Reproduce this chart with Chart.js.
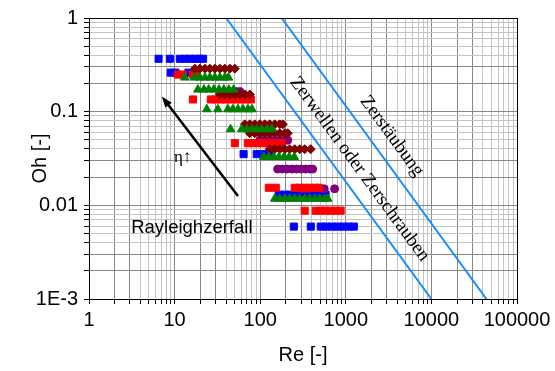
<!doctype html>
<html lang="de">
  <head>
    <meta charset="utf-8">
    <title>Oh-Re Diagramm</title>
    <style>
      * {
        margin: 0;
        padding: 0;
      }
      body {
        background: #fff;
      }
    </style>
  </head>
  <body>
    <canvas id="myChart" width="555" height="371"></canvas>
    <script src="https://cdn.jsdelivr.net/npm/chart.js"></script>
    <script>

    // axis decades and their labels
    const xDecades = [1, 10, 100, 1000, 10000, 100000];
    const xTickLabels = ['1', '10', '100', '1000', '10000', '100000'];
    const yDecades = [0.001, 0.01, 0.1, 1];
    const yTickLabels = ['1E-3', '0.01', '0.1', '1'];

    // measured rows: one Oh per row, Re values along it
    const blueOh = [0.367, 0.261, 0.0352, 0.0130, 0.00593];
    const blueRe = [
      [6.5, 8.8, 11.5, 13.2, 15.1, 17.3, 19.7, 21.5],
      [9.0, 10.2, 14.5],
      [64, 91, 113, 129],
      [165, 194, 221, 253, 290, 331, 379, 434, 496, 580],
      [247, 390, 510, 590, 690, 800, 930, 1080, 1240]
    ];
    const redOh = [0.249, 0.135, 0.0461, 0.0154, 0.00877];
    const redRe = [
      [10.9, 12.5, 16.4, 18.2],
      [16.4, 26.5, 30.3, 34.7, 39.7, 45.4, 52, 59.5, 68, 77.8],
      [50.5, 71.7, 82, 94, 107, 122, 140, 160, 178],
      [126, 152, 253, 290, 331, 379, 434, 483],
      [331, 445, 510, 580, 665, 760, 870]
    ];
    const maroonOh = [0.288, 0.1526, 0.0733, 0.0589, 0.0398];
    const maroonRe = [
      [17.3, 19.7, 22.6, 25.8, 29.5, 33.8, 38.6, 44.2, 50.5],
      [33.8, 38.6, 44.2, 50.5, 57.8, 66.1, 75.6],
      [66.1, 75.6, 86.5, 98.9, 113, 129, 148, 169, 184],
      [75.6, 86.5, 98.9, 113, 129, 148, 169, 194, 210],
      [129, 148, 169, 194, 221, 253, 290, 331, 389]
    ];
    const greenOh = [0.231, 0.172, 0.106, 0.0649, 0.0328, 0.01175];
    const greenRe = [
      [13.2, 17.0, 19.7, 22.6, 25.8, 29.5, 33.8, 38.6, 42.5],
      [18.7, 22.0, 25.0, 28.7, 33, 37.6, 43, 49],
      [23.8, 32, 42, 48, 55, 63, 72, 80],
      [45, 61, 70, 80, 91, 104, 120, 137],
      [110, 126, 144, 165, 190, 218, 250],
      [148, 169, 194, 221, 253, 290, 331, 379, 434, 496, 567, 615]
    ];
    const purpleOh = [0.164, 0.0496, 0.0244, 0.0150];
    const purpleRe = [
      [44, 52, 58],
      [99, 113, 129, 148, 169, 194, 210],
      [160, 180, 205, 235, 265, 300, 340, 380, 410],
      [310, 360, 560, 740]
    ];

    // regime boundaries
    const wellenRe = [40, 10000];
    const wellenOh = [1, 0.001];
    const staubRe = [178, 44000];
    const staubOh = [1, 0.001];

    // viscosity arrow (start, tip)
    const arrowRe = [55, 7.1];
    const arrowOh = [0.0126, 0.145];

    // text notes, anchored in data space
    const notes = [
      {text: 'Zerwellen oder Zerschrauben', re: 1450, oh: 0.0244, font: 'serif', size: 19, along: 'wellen'},
      {text: 'Zerstäubung', re: 3450, oh: 0.0547, font: 'serif', size: 19, along: 'staub'},
      {text: 'η↑', re: 12.4, oh: 0.032, font: 'serif', size: 17},
      {text: 'Rayleighzerfall', re: 15.9, oh: 0.0057, font: 'sans', size: 18.5}
    ];

    function rowPoints(ohs, res) {
      const pts = [];
      ohs.forEach((oh, i) => res[i].forEach(re => pts.push({x: re, y: oh})));
      return pts;
    }
    function linePoints(xs, ys) {
      return xs.map((x, i) => ({x: x, y: ys[i]}));
    }
    function logTicks(min, max) {
      const t = [];
      const e0 = Math.round(Math.log10(min));
      const e1 = Math.round(Math.log10(max));
      for (let e = e0; e < e1; e++) {
        for (let m = 1; m < 10; m++) {
          t.push({value: Number((m * Math.pow(10, e)).toPrecision(3))});
        }
      }
      t.push({value: max});
      return t;
    }
    function gridColor(v) {
      const m = Math.round(v / Math.pow(10, Math.floor(Math.log10(v) + 1e-9)));
      return m <= 3 ? '#878787' : '#c4c4c4';
    }
    function decadeLabel(v, decades, labels) {
      const i = decades.findIndex(d => Math.abs(d - v) / d < 1e-6);
      return i >= 0 ? labels[i] : '';
    }

    const scatterSet = (pts, color, style, r) => ({
      type: 'scatter',
      data: pts,
      pointStyle: style,
      pointRadius: r,
      pointBackgroundColor: color,
      pointBorderColor: color,
      pointBorderWidth: 1,
      showLine: false
    });
    const boundSet = (pts) => ({
      type: 'line',
      data: pts,
      borderColor: '#1a8cff',
      borderWidth: 2,
      pointRadius: 0,
      fill: false
    });

    const data = {
      datasets: [
        scatterSet(rowPoints(greenOh, greenRe), '#008000', 'triangle', 5),
        scatterSet(rowPoints(maroonOh, maroonRe), '#800000', 'rectRot', 4.5),
        scatterSet(rowPoints(redOh, redRe), '#ff0000', 'rect', 5),
        scatterSet(rowPoints(purpleOh, purpleRe), '#800080', 'circle', 4),
        scatterSet(rowPoints(blueOh, blueRe), '#0000ff', 'rect', 5),
        boundSet(linePoints(wellenRe, wellenOh)),
        boundSet(linePoints(staubRe, staubOh))
      ]
    };

    const fonts = {
      sans: 'Liberation Sans, Arial, sans-serif',
      serif: 'Liberation Serif, Times New Roman, serif'
    };

    const extras = {
      id: 'extras',
      afterDatasetsDraw(chart) {
        const {ctx, chartArea: a, scales: {x, y}} = chart;
        ctx.save();
        // frame
        ctx.strokeStyle = '#000';
        ctx.lineWidth = 1;
        ctx.strokeRect(a.left + 0.5, a.top + 0.5, a.right - a.left, a.bottom - a.top);

        // arrow
        const x0 = x.getPixelForValue(arrowRe[0]), y0 = y.getPixelForValue(arrowOh[0]);
        const x1 = x.getPixelForValue(arrowRe[1]), y1 = y.getPixelForValue(arrowOh[1]);
        const ang = Math.atan2(y1 - y0, x1 - x0);
        const head = 11, half = 4;
        ctx.strokeStyle = '#000';
        ctx.fillStyle = '#000';
        ctx.lineWidth = 2.5;
        ctx.beginPath();
        ctx.moveTo(x0, y0);
        ctx.lineTo(x1 - Math.cos(ang) * head * 0.8, y1 - Math.sin(ang) * head * 0.8);
        ctx.stroke();
        ctx.beginPath();
        ctx.moveTo(x1, y1);
        ctx.lineTo(x1 - Math.cos(ang) * head + Math.sin(ang) * half, y1 - Math.sin(ang) * head - Math.cos(ang) * half);
        ctx.lineTo(x1 - Math.cos(ang) * head - Math.sin(ang) * half, y1 - Math.sin(ang) * head + Math.cos(ang) * half);
        ctx.closePath();
        ctx.fill();

        // notes
        const slope = (xs, ys) => Math.atan2(
          y.getPixelForValue(ys[1]) - y.getPixelForValue(ys[0]),
          x.getPixelForValue(xs[1]) - x.getPixelForValue(xs[0]));
        notes.forEach(n => {
          const px = x.getPixelForValue(n.re), py = y.getPixelForValue(n.oh);
          ctx.save();
          ctx.translate(px, py);
          if (n.along === 'wellen') ctx.rotate(slope(wellenRe, wellenOh));
          if (n.along === 'staub') ctx.rotate(slope(staubRe, staubOh));
          ctx.font = n.size + 'px ' + fonts[n.font];
          ctx.fillStyle = '#000';
          ctx.textAlign = 'center';
          ctx.textBaseline = 'middle';
          ctx.fillText(n.text, 0, 0);
          ctx.restore();
        });
        ctx.restore();
      }
    };

    const config = {
      data,
      options: {
        responsive: false,
        animation: false,
        layout: {
          padding: {top: 16, right: 38, bottom: 0, left: 0}
        },
        plugins: {
          legend: {display: false},
          tooltip: {enabled: false}
        },
        scales: {
          x: {
            type: 'logarithmic',
            min: 1,
            max: 100000,
            afterBuildTicks: s => { s.ticks = logTicks(1, 100000); },
            afterFit: s => { s.height = 72; },
            grid: {
              color: c => gridColor(c.tick.value),
              tickColor: '#000',
              tickLength: 5
            },
            border: {color: '#000', width: 1},
            ticks: {
              autoSkip: false,
              maxRotation: 0,
              minRotation: 0,
              padding: 4,
              color: '#000',
              font: {family: fonts.sans, size: 20},
              callback: v => decadeLabel(v, xDecades, xTickLabels)
            },
            title: {
              display: true,
              text: 'Re [-]',
              color: '#000',
              font: {family: fonts.sans, size: 20},
              padding: {top: 0, bottom: 4}
            }
          },
          y: {
            type: 'logarithmic',
            min: 0.001,
            max: 1,
            afterBuildTicks: s => { s.ticks = logTicks(0.001, 1); },
            afterFit: s => { s.width = 89; },
            grid: {
              color: c => gridColor(c.tick.value),
              tickColor: '#000',
              tickLength: 5
            },
            border: {color: '#000', width: 1},
            ticks: {
              autoSkip: false,
              padding: 6,
              color: '#000',
              font: {family: fonts.sans, size: 20},
              callback: v => decadeLabel(v, yDecades, yTickLabels)
            },
            title: {
              display: true,
              text: 'Oh [-]',
              color: '#000',
              font: {family: fonts.sans, size: 20},
              padding: {top: 28, bottom: 0}
            }
          }
        }
      },
      plugins: [extras]
    };

    const myChart = new Chart(document.getElementById('myChart'), config);
    </script>
  </body>
</html>
